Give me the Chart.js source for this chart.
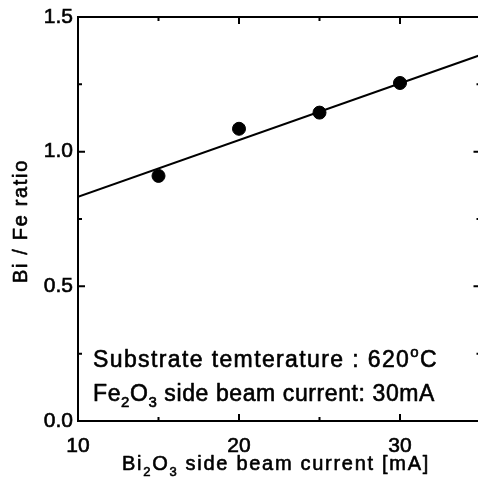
<!DOCTYPE html>
<html><head><meta charset="utf-8">
<script src="https://cdn.jsdelivr.net/npm/chart.js@4/dist/chart.umd.min.js"></script>
<style>html,body{margin:0;padding:0;overflow:hidden;background:#fff}canvas{display:block}</style>
</head><body><canvas id="c" width="488" height="486"></canvas>
<script>
// ---- data ----
const beamCurrent = [15, 20, 25, 30];          // Bi2O3 side beam current [mA]
const biFeRatio = [0.91, 1.085, 1.145, 1.255];  // Bi / Fe ratio
const fitCurrent = [10, 35];
const fitRatio = [0.832, 1.359];
const xTickLabels = ['10', '20', '30'];
const yTickLabels = ['0.0', '0.5', '1.0', '1.5'];
const xTitle = [['Bi', 0], ['2', 1], ['O', 0], ['3', 1], [' side beam current [mA]', 0]];
const yTitle = 'Bi / Fe ratio';
const note1 = [['Substrate temterature : 620', 0], ['o', 2], ['C', 0]];
const note2 = [['Fe', 0], ['2', 1], ['O', 0], ['3', 1], [' side beam current: 30mA', 0]];

const FONT = '"Liberation Sans", Arial, sans-serif';
const AREA = { left: 78, top: 17, right: 480, bottom: 421 };

function setSpacing(ctx, sp) { try { ctx.letterSpacing = sp + 'px'; } catch (e) {} }

// draws rich text (normal / subscript / superscript) stretched to a target width
function drawRich(ctx, segs, x, y, size, target, align) {
  const subSize = Math.round(size * 0.65);
  setSpacing(ctx, 0);
  let chars = 0;
  const parts = segs.map(([t, kind]) => {
    const s = kind ? subSize : size;
    ctx.font = s + 'px ' + FONT;
    chars += t.length;
    return { t, s, kind, w: ctx.measureText(t).width };
  });
  const natural = parts.reduce((a, p) => a + p.w, 0);
  const sp = target ? (target - natural) / chars : 0;
  let cx = align === 'center' ? x - (natural + sp * chars) / 2 : x;
  ctx.textAlign = 'left';
  ctx.textBaseline = 'alphabetic';
  ctx.lineWidth = 0.6;
  ctx.lineJoin = 'round';
  for (const p of parts) {
    ctx.font = p.s + 'px ' + FONT;
    setSpacing(ctx, sp);
    const dy = p.kind === 1 ? size * 0.28 : (p.kind === 2 ? -size * 0.42 : 0);
    ctx.fillText(p.t, cx, y + dy);
    ctx.strokeText(p.t, cx, y + dy);
    cx += p.w + sp * p.t.length;
  }
  setSpacing(ctx, 0);
}

const framePlugin = {
  id: 'frame',
  afterDraw(chart) {
    const ctx = chart.ctx;
    const a = chart.chartArea;
    const xs = chart.scales.x, ys = chart.scales.y;
    ctx.save();
    ctx.strokeStyle = '#000';
    ctx.fillStyle = '#000';
    ctx.lineWidth = 2;
    ctx.strokeRect(a.left, a.top, a.right - a.left, a.bottom - a.top);
    ctx.beginPath();
    xs.ticks.forEach(t => {
      const px = xs.getPixelForValue(t.value);
      const len = xTickLabels.includes(String(t.value)) ? 7 : 4;
      ctx.moveTo(px, a.bottom); ctx.lineTo(px, a.bottom - len);
      ctx.moveTo(px, a.top); ctx.lineTo(px, a.top + len);
    });
    ys.ticks.forEach(t => {
      const py = ys.getPixelForValue(t.value);
      const major = Math.abs(t.value * 2 - Math.round(t.value * 2)) < 1e-6;
      const len = major ? 7 : 4;
      ctx.moveTo(a.left, py); ctx.lineTo(a.left + len, py);
      ctx.moveTo(a.right, py); ctx.lineTo(a.right - len, py);
    });
    ctx.stroke();
    // axis titles
    drawRich(ctx, xTitle, 276, 470, 20, 308, 'center');
    ctx.save();
    ctx.translate(27, 221);
    ctx.rotate(-Math.PI / 2);
    drawRich(ctx, [[yTitle, 0]], 0, 0, 20, 124, 'center');
    ctx.restore();
    // annotations
    drawRich(ctx, note1, 93, 367, 23, 345, 'left');
    drawRich(ctx, note2, 93, 401, 23, 342, 'left');
    ctx.restore();
  }
};

const chart = new Chart(document.getElementById('c'), {
  data: {
    datasets: [
      {
        type: 'line',
        data: fitCurrent.map((x, i) => ({ x, y: fitRatio[i] })),
        borderColor: '#000', borderWidth: 2, pointRadius: 0, fill: false, tension: 0
      },
      {
        type: 'scatter',
        data: beamCurrent.map((x, i) => ({ x, y: biFeRatio[i] })),
        backgroundColor: '#000', borderColor: '#000', pointRadius: 6.5, pointHoverRadius: 6.5
      }
    ]
  },
  options: {
    responsive: false,
    animation: false,
    devicePixelRatio: 1,
    events: [],
    layout: { padding: { top: AREA.top, right: 0, left: 0, bottom: 0 } },
    plugins: { legend: { display: false }, tooltip: { enabled: false } },
    scales: {
      x: {
        type: 'linear', position: 'bottom', min: 10, max: 35,
        grid: { display: false, drawTicks: false }, border: { display: false },
        ticks: {
          stepSize: 5, includeBounds: false, maxRotation: 0, autoSkip: false,
          color: '#000', font: { family: FONT, size: 21 }, padding: 13,
          textStrokeColor: '#000', textStrokeWidth: 0.6,
          callback: v => xTickLabels.includes(String(v)) ? String(v) : ''
        },
        afterFit: s => { s.height = 486 - AREA.bottom; s.paddingLeft = 0; s.paddingRight = 0; }
      },
      y: {
        type: 'linear', position: 'left', min: 0, max: 1.5,
        grid: { display: false, drawTicks: false }, border: { display: false },
        ticks: {
          stepSize: 0.25, autoSkip: false,
          color: '#000', font: { family: FONT, size: 21 }, padding: 5,
          textStrokeColor: '#000', textStrokeWidth: 0.6,
          callback: v => {
            const s = v.toFixed(1);
            return (Math.abs(v * 2 - Math.round(v * 2)) < 1e-6 && yTickLabels.includes(s)) ? s : '';
          }
        },
        afterFit: s => { s.width = AREA.left; s.paddingTop = 0; s.paddingBottom = 0; }
      }
    }
  },
  plugins: [framePlugin]
});

// widen the (clipped) canvas so the plot's right edge sits just past the window, as in the reference
for (let i = 0; i < 3; i++) {
  const dr = Math.round(AREA.right - chart.chartArea.right);
  if (dr === 0) break;
  chart.resize(chart.width + dr, 486);
}
</script>
</body></html>
